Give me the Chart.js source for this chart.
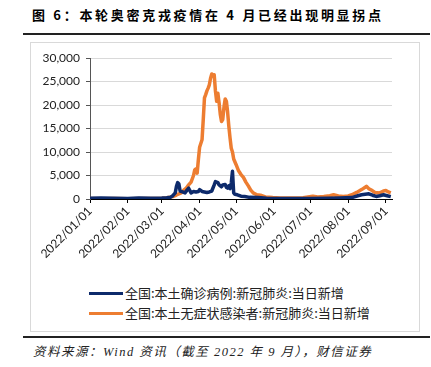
<!DOCTYPE html>
<html>
<head>
<meta charset="utf-8">
<script src="https://cdn.jsdelivr.net/npm/chart.js@4.4.1/dist/chart.umd.min.js"></script>
<style>
  body { margin: 0; background: #fff; width: 431px; height: 367px; position: relative; overflow: hidden; }
  .title { position: absolute; left: 32px; top: 6px; font: bold 13px "Noto Sans CJK SC", sans-serif; letter-spacing: 2.7px; line-height: 18px; color: #000; white-space: nowrap; }
  .rule { position: absolute; left: 23px; width: 407px; height: 2px; background: #222; }
  .box { position: absolute; left: 30px; top: 42px; width: 388px; height: 288px; border: 1px solid #d9d9d9; }
  .chartWrap { position: absolute; left: 30px; top: 42px; width: 389px; height: 230px; }
  .legend { position: absolute; left: 89px; top: 283px; font: 13px "Noto Sans CJK SC", sans-serif; color: #222; }
  .legend div { height: 20px; line-height: 20px; display: flex; align-items: center; white-space: nowrap; }
  .legend span.sw { display: inline-block; width: 34px; height: 3px; margin-right: 2px; }
  .source { position: absolute; left: 33px; top: 341px; font: italic 12.5px "Liberation Serif", "Noto Sans CJK SC", serif; letter-spacing: 1.5px; color: #222; white-space: nowrap; }
</style>
</head>
<body>
<div class="title">图 6：本轮奥密克戎疫情在 4 月已经出现明显拐点</div>
<div class="rule" style="top:33px"></div>
<div class="box"></div>
<div class="chartWrap"><canvas id="covidChart" width="389" height="230"></canvas></div>
<div class="legend" id="legend"></div>
<div class="rule" style="top:336px"></div>
<div class="source">资料来源：Wind 资讯（截至 2022 年 9 月），财信证券</div>
<script>
// 本土确诊病例 新增
const confirmedDates = ['2022-01-01','2022-01-10','2022-01-20','2022-02-01','2022-02-10','2022-02-20','2022-03-01','2022-03-05','2022-03-08','2022-03-10','2022-03-12','2022-03-13','2022-03-14','2022-03-15','2022-03-16','2022-03-18','2022-03-20','2022-03-22','2022-03-23','2022-03-25','2022-03-27','2022-03-29','2022-03-31','2022-04-01','2022-04-03','2022-04-05','2022-04-07','2022-04-09','2022-04-11','2022-04-13','2022-04-14','2022-04-16','2022-04-17','2022-04-19','2022-04-20','2022-04-22','2022-04-23','2022-04-24','2022-04-25','2022-04-26','2022-04-27','2022-04-28','2022-04-29','2022-04-30','2022-05-02','2022-05-05','2022-05-08','2022-05-12','2022-05-19','2022-05-26','2022-06-10','2022-06-30','2022-07-15','2022-07-25','2022-08-04','2022-08-09','2022-08-12','2022-08-15','2022-08-18','2022-08-21','2022-08-24','2022-08-27','2022-08-30','2022-09-02','2022-09-05'];
const confirmedValues = [150,200,150,100,200,150,200,250,350,700,1300,2700,3500,3200,1700,1500,1300,2000,2300,1300,1600,1500,1600,2000,1600,1500,1400,1500,1700,3000,3700,3500,3000,2600,3000,3100,2500,2300,2800,2200,3400,5900,1300,1000,900,600,550,350,300,150,100,100,150,200,300,700,900,1000,1100,800,550,700,900,700,500];

// 本土无症状感染者 新增
const asymDates = ['2022-01-01','2022-01-11','2022-01-21','2022-02-01','2022-02-15','2022-03-01','2022-03-05','2022-03-08','2022-03-10','2022-03-12','2022-03-14','2022-03-17','2022-03-19','2022-03-21','2022-03-23','2022-03-25','2022-03-27','2022-03-28','2022-03-29','2022-03-30','2022-03-31','2022-04-01','2022-04-03','2022-04-04','2022-04-05','2022-04-06','2022-04-07','2022-04-08','2022-04-09','2022-04-10','2022-04-11','2022-04-12','2022-04-13','2022-04-14','2022-04-15','2022-04-16','2022-04-17','2022-04-18','2022-04-19','2022-04-20','2022-04-21','2022-04-22','2022-04-23','2022-04-24','2022-04-25','2022-04-26','2022-04-27','2022-04-28','2022-04-29','2022-05-01','2022-05-03','2022-05-05','2022-05-07','2022-05-09','2022-05-11','2022-05-13','2022-05-15','2022-05-18','2022-05-21','2022-05-25','2022-05-31','2022-06-06','2022-06-15','2022-06-25','2022-07-03','2022-07-07','2022-07-12','2022-07-17','2022-07-20','2022-07-24','2022-07-28','2022-08-01','2022-08-04','2022-08-08','2022-08-12','2022-08-15','2022-08-16','2022-08-18','2022-08-20','2022-08-23','2022-08-27','2022-08-30','2022-09-01','2022-09-03','2022-09-05'];
const asymValues = [100,60,80,50,80,150,250,400,500,700,1000,1300,1900,2300,3000,3600,5000,6200,6400,5500,8400,11000,12600,16900,21500,22200,23000,23600,24300,25700,26600,26300,26400,23000,20800,22500,20500,18000,16500,16900,19500,21300,20800,18500,15500,13000,10800,10000,8500,7300,6000,5200,4600,3600,2800,1900,1300,900,800,450,300,200,200,250,600,450,550,700,900,650,550,650,900,1400,2000,2500,2700,2200,1900,1400,1300,1700,1800,1500,1300];

const monthTicks = ['2022/01/01','2022/02/01','2022/03/01','2022/04/01','2022/05/01','2022/06/01','2022/07/01','2022/08/01','2022/09/01'];

const seriesNames = ['全国:本土确诊病例:新冠肺炎:当日新增', '全国:本土无症状感染者:新冠肺炎:当日新增'];
const seriesColors = ['#0d2a6b', '#ed7d31'];

const startMs = Date.UTC(2022, 0, 1);
function dayIndex(str) {
  const p = str.split(/[-\/]/).map(Number);
  return Math.round((Date.UTC(p[0], p[1] - 1, p[2]) - startMs) / 86400000);
}
const tickDays = monthTicks.map(dayIndex);

function toPoints(dates, values) {
  return dates.map((d, i) => ({ x: dayIndex(d), y: values[i] }));
}

const tickFont = { family: 'Lato, "Liberation Sans", sans-serif', size: 12 };

const ctx = document.getElementById('covidChart').getContext('2d');
const covidChart = new Chart(ctx, {
  type: 'line',
  data: {
    datasets: [
      {
        label: seriesNames[0],
        data: toPoints(confirmedDates, confirmedValues),
        borderColor: seriesColors[0],
        borderWidth: 3.5,
        pointRadius: 0,
        tension: 0,
        borderJoinStyle: 'round'
      },
      {
        label: seriesNames[1],
        data: toPoints(asymDates, asymValues),
        borderColor: seriesColors[1],
        borderWidth: 3.5,
        pointRadius: 0,
        tension: 0,
        borderJoinStyle: 'round'
      }
    ]
  },
  options: {
    responsive: false,
    animation: false,
    layout: { padding: { top: 16, right: 27, left: 0, bottom: 0 } },
    plugins: {
      legend: { display: false },
      tooltip: { enabled: false }
    },
    scales: {
      x: {
        type: 'linear',
        min: 0,
        max: 248,
        afterBuildTicks: function(scale) {
          scale.ticks = tickDays.map(v => ({ value: v }));
        },
        afterFit: function(scale) { scale.height = 73; },
        ticks: {
          autoSkip: false,
          minRotation: 45,
          maxRotation: 45,
          padding: 1,
          color: '#222',
          font: tickFont,
          callback: function(value) {
            const i = tickDays.indexOf(value);
            return i >= 0 ? monthTicks[i] : '';
          }
        },
        grid: {
          drawOnChartArea: false,
          tickLength: 4,
          tickColor: '#000'
        },
        border: { color: '#000', width: 1 }
      },
      y: {
        min: 0,
        max: 30000,
        afterFit: function(scale) { scale.width = 60; },
        ticks: {
          stepSize: 5000,
          padding: 6,
          color: '#222',
          font: tickFont,
          callback: function(value) {
            return value.toLocaleString('en-US');
          }
        },
        grid: {
          color: '#d9d9d9',
          tickLength: 4,
          tickColor: '#555'
        },
        border: { color: '#555', width: 1 }
      }
    }
  }
});

// legend
const legendEl = document.getElementById('legend');
covidChart.data.datasets.forEach(ds => {
  const row = document.createElement('div');
  const sw = document.createElement('span');
  sw.className = 'sw';
  sw.style.background = ds.borderColor;
  row.appendChild(sw);
  row.appendChild(document.createTextNode(ds.label));
  legendEl.appendChild(row);
});
</script>
</body>
</html>
